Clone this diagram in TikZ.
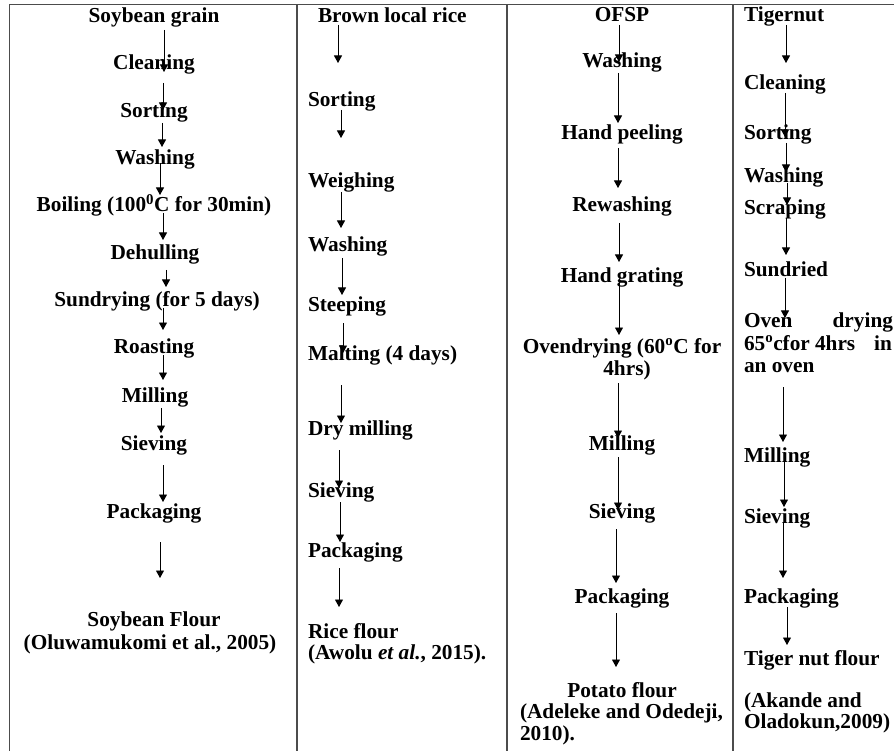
\documentclass[tikz,border=0pt]{standalone}
\usepackage{fontspec}
\setmainfont{Liberation Serif}
\usetikzlibrary{arrows.meta}
\begin{document}
\begin{tikzpicture}[x=1pt,y=-1pt,
  every node/.style={inner sep=0pt, outer sep=0pt, font=\fontsize{21.3}{22}\selectfont\bfseries},
  ctext/.style={anchor=base},
  ltext/.style={anchor=base west},
  rtext/.style={anchor=base east},
  flow/.style={-{Triangle[length=7.5pt,width=8pt]}, line width=0.8pt, black},
  rule/.style={line width=1.2pt, black!70}]
\useasboundingbox (0,0) rectangle (894,751);
\fill[white] (0,0) rectangle (894,751);
% table rules
\draw[rule] (9.5,751) -- (9.5,4.5) -- (894,4.5);
\draw[rule] (297,4.5) -- (297,751);
\draw[rule] (507,4.5) -- (507,751);
\draw[rule] (733,4.5) -- (733,751);
% column 1
\node[ctext] (a1) at (154,23) {Soybean grain};
\node[ctext] (a2) at (154,70) {Cleaning};
\node[ctext] (a3) at (154,118) {Sorting};
\node[ctext] (a4) at (155,165) {Washing};
\node[ctext] (a5) at (154,212) {Boiling (100\textsuperscript{0}C for 30min)};
\node[ctext] (a6) at (155,260) {Dehulling};
\node[ctext] (a7) at (157,307) {Sundrying (for 5 days)};
\node[ctext] (a8) at (154,353) {Roasting};
\node[ctext] (a9) at (155,402) {Milling};
\node[ctext] (a10) at (154,450) {Sieving};
\node[ctext] (a11) at (154,518) {Packaging};
\node[ctext] (a12) at (154,626) {Soybean Flour};
\node[ctext] (a13) at (150,649) {(Oluwamukomi et al., 2005)};
% column 2
\node[ltext] (b1) at (318,23) {Brown local rice};
\node[ltext] (b2) at (308,107) {Sorting};
\node[ltext] (b3) at (308,188) {Weighing};
\node[ltext] (b4) at (308,252) {Washing};
\node[ltext] (b5) at (308,312) {Steeping};
\node[ltext] (b6) at (308,360) {Malting (4 days)};
\node[ltext] (b7) at (308,435) {Dry milling};
\node[ltext] (b8) at (308,497) {Sieving};
\node[ltext] (b9) at (308,557) {Packaging};
\node[ltext] (b10) at (308,638) {Rice flour};
\node[ltext] (b11) at (308,659) {(Awolu \textit{et al.}, 2015).};
% column 3
\node[ctext] (c1) at (622,22) {OFSP};
\node[ctext] (c2) at (622,68) {Washing};
\node[ctext] (c3) at (622,140) {Hand peeling};
\node[ctext] (c4) at (622,212) {Rewashing};
\node[ctext] (c5) at (622,283) {Hand grating};
\node[ctext] (c6) at (622,353) {Ovendrying (60\textsuperscript{o}C for};
\node[ctext] (c6b) at (627,375) {4hrs)};
\node[ctext] (c7) at (622,450) {Milling};
\node[ctext] (c8) at (622,518) {Sieving};
\node[ctext] (c9) at (622,603) {Packaging};
\node[ctext] (c10) at (622,697) {Potato flour};
\node[ltext] (c11) at (520,718) {(Adeleke and Odedeji,};
\node[ltext] (c11b) at (520,740) {2010).};
% column 4
\node[ltext] (d1) at (744,22) {Tigernut};
\node[ltext] (d2) at (744,90) {Cleaning};
\node[ltext] (d3) at (744,140) {Sorting};
\node[ltext] (d4) at (744,183) {Washing};
\node[ltext] (d5) at (744,215) {Scraping};
\node[ltext] (d6) at (744,277) {Sundried};
\node[ltext] (d7) at (744,327) {Oven};
\node[rtext] (d7b) at (893,327) {drying};
\node[ltext] (d7c) at (744,350) {65\textsuperscript{o}cfor};
\node[ltext] (d7d) at (815,350) {4hrs};
\node[rtext] (d7e) at (892,350) {in};
\node[ltext] (d7f) at (744,372) {an oven};
\node[ltext] (d8) at (744,462) {Milling};
\node[ltext] (d9) at (744,523) {Sieving};
\node[ltext] (d10) at (744,603) {Packaging};
\node[ltext] (d11) at (744,665) {Tiger nut flour};
\node[ltext] (d12) at (744,707) {(Akande and};
\node[ltext] (d12b) at (744,728) {Oladokun,2009)};
% arrows
\foreach \n/\x/\ya/\yb in {
  p1/164/30/72, p2/163/83/110, p3/162/123/147, p4/160/163/195, p5/163/213/240,
  p6/166/270/287, p7/163/308/330, p8/163/355/380, p9/161/408/433, p10/163/465/502,
  p11/160/542/578,
  q1/338/25/63, q2/341/110/138, q3/341/192/228, q4/342/258/295, q5/343/323/353,
  q6/341/385/423, q7/339/450/488, q8/340/502/542, q9/339/568/607,
  r1/619/25/62, r2/618/73/123, r3/618/148/188, r4/619/223/262, r5/619/280/335,
  r6/618/383/438, r7/618/457/510, r8/616/529/583, r9/616/613/667,
  s1/786/25/63, s2/785/93/137, s3/786/143/172, s4/787/183/205, s5/786/218/255,
  s6/785/278/318, s7/783/387/442, s8/784/452/507, s9/783/522/578, s10/787/607/645}
{
  \coordinate (\n s) at (\x,\ya);
  \coordinate (\n e) at (\x,\yb);
  \draw[flow] (\n s) -- (\n e);
}
\end{tikzpicture}
\end{document}
